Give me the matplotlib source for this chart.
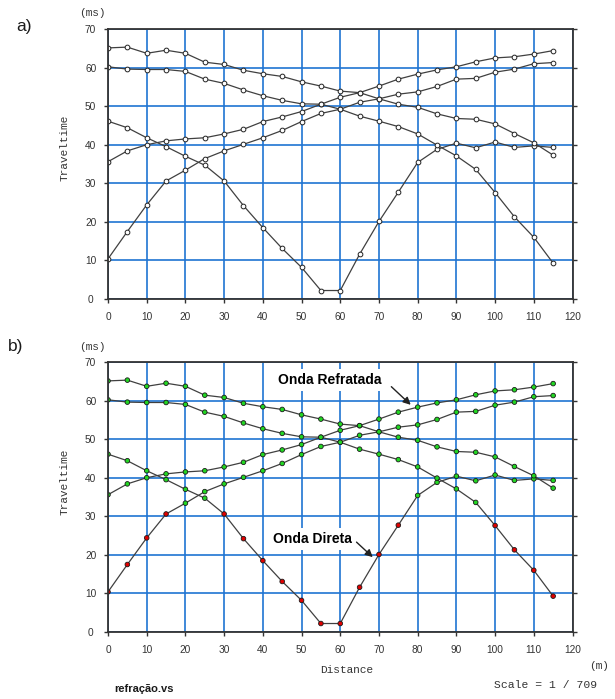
import matplotlib
matplotlib.use("Agg")
import matplotlib.pyplot as plt
import numpy as np

# ---------------- data ----------------
distance = [0, 5, 10, 15, 20, 25, 30, 35, 40, 45, 50, 55,
            60, 65, 70, 75, 80, 85, 90, 95, 100, 105, 110, 115]

shot_left_near = [10.4, 17.5, 24.4, 30.6, 33.4, 36.4, 38.4, 40.1, 41.8, 43.7, 46.0, 48.1,
                  49.2, 51.0, 51.9, 53.1, 53.7, 55.1, 57.0, 57.2, 58.8, 59.6, 61.0, 61.3]
shot_left_far = [35.6, 38.4, 40.0, 41.0, 41.5, 41.8, 42.8, 44.0, 46.0, 47.2, 48.6, 50.5,
                 52.3, 53.5, 55.2, 57.0, 58.3, 59.4, 60.2, 61.5, 62.5, 62.8, 63.5, 64.4]
shot_middle = [46.1, 44.4, 41.8, 39.5, 37.0, 34.7, 30.6, 24.2, 18.5, 13.1, 8.2, 2.2,
               2.2, 11.6, 20.1, 27.7, 35.4, 38.8, 40.4, 39.2, 40.7, 39.3, 39.7, 39.3]
shot_right_near = [60.2, 59.6, 59.5, 59.5, 59.0, 57.0, 55.9, 54.2, 52.7, 51.5, 50.6, 50.5,
                   49.2, 47.4, 46.1, 44.7, 42.8, 39.9, 37.1, 33.6, 27.6, 21.3, 16.0, 9.3]
shot_right_far = [65.1, 65.3, 63.7, 64.5, 63.7, 61.4, 60.8, 59.3, 58.4, 57.7, 56.3, 55.2,
                  53.9, 53.5, 51.9, 50.5, 49.7, 48.0, 46.8, 46.6, 45.4, 42.9, 40.5, 37.3]

# direct-wave picks (red in panel b), as distance ranges per shot
direct_left_near = (0, 15)
direct_left_far = None
direct_middle = (30, 75)
direct_right_near = (100, 115)
direct_right_far = None

shots = [
    (shot_left_near, direct_left_near),
    (shot_left_far, direct_left_far),
    (shot_middle, direct_middle),
    (shot_right_near, direct_right_near),
    (shot_right_far, direct_right_far),
]

x_ticks = [0, 10, 20, 30, 40, 50, 60, 70, 80, 90, 100, 110, 120]
y_ticks = [0, 10, 20, 30, 40, 50, 60, 70]

# ---------------- layout ----------------
W, H = 615, 699
fig = plt.figure(figsize=(W / 100, H / 100), dpi=100)


def px(x, y):
    return x / W, 1 - y / H


MONO = ["Liberation Mono", "DejaVu Sans Mono"]
SANS = ["Liberation Sans", "DejaVu Sans"]

GRID = "#1f74d2"
LINE = "#404040"


def make_axes(top_px):
    left, right, bottom = 108, 572.5, top_px + 270
    ax = fig.add_axes([left / W, 1 - bottom / H, (right - left) / W, 270 / H])
    ax.set_xlim(0, 120)
    ax.set_ylim(0, 70)
    ax.set_xticks(x_ticks)
    ax.set_yticks(y_ticks)
    ax.grid(True, color=GRID, lw=1.2, zorder=0)
    ax.set_axisbelow(True)
    for s in ax.spines.values():
        s.set_color("#333333")
        s.set_linewidth(1.3)
        s.set_zorder(5)
    ax.tick_params(axis="both", direction="out", length=3, width=1.0,
                   color="#333333", labelsize=7.3, labelcolor="#333333")
    ax.tick_params(axis="x", pad=6.5)
    ax.tick_params(axis="y", pad=9.5, right=True)
    for lab in ax.get_yticklabels():
        lab.set_horizontalalignment("center")
        lab.set_fontfamily(SANS)
    for lab in ax.get_xticklabels():
        lab.set_fontfamily(SANS)
    return ax


# ---------------- panel a ----------------
ax1 = make_axes(29)
for vals, _ in shots:
    ax1.plot(distance, vals, color=LINE, lw=0.9, marker="o", ms=3.4,
             mfc="white", mec="#222222", mew=0.7, zorder=3)

# ---------------- panel b ----------------
ax2 = make_axes(362)
for vals, drange in shots:
    ax2.plot(distance, vals, color=LINE, lw=0.9, zorder=3)
    cols = []
    for d in distance:
        if drange is not None and drange[0] <= d <= drange[1]:
            cols.append("#e00000")
        else:
            cols.append("#22d622")
    ax2.scatter(distance, vals, s=11, c=cols, edgecolors="#1a1a1a",
                linewidths=0.6, zorder=4)

ax2.text(57.3, 65.3, "Onda Refratada", fontsize=10, fontweight="bold",
         family=SANS, ha="center", va="center", zorder=2,
         bbox=dict(facecolor="white", edgecolor="none", pad=3))
ax2.annotate("", xy=(78.2, 58.9), xytext=(73.2, 63.6), zorder=4,
             arrowprops=dict(arrowstyle="-|>", color="#222222", lw=1.0,
                             mutation_scale=11, shrinkA=0, shrinkB=0))
ax2.text(52.8, 24.1, "Onda Direta", fontsize=10, fontweight="bold",
         family=SANS, ha="center", va="center", zorder=2,
         bbox=dict(facecolor="white", edgecolor="none", pad=3))
ax2.annotate("", xy=(68.4, 19.4), xytext=(64.2, 23.3), zorder=4,
             arrowprops=dict(arrowstyle="-|>", color="#222222", lw=1.0,
                             mutation_scale=11, shrinkA=0, shrinkB=0))

# ---------------- texts ----------------
fig.text(*px(24, 27), "a)", fontsize=12.5, family=SANS, ha="center",
         va="center", color="#1a1a1a")
fig.text(*px(16, 347), "b)", fontsize=12.5, family=SANS, ha="center",
         va="center", color="#1a1a1a")
for ytop in (13, 347):
    fig.text(*px(92, ytop), "(ms)", fontsize=8, family=MONO, ha="center",
             va="center", color="#333333")
for yc in (148, 482):
    fig.text(*px(65, yc), "Traveltime", fontsize=8, family=MONO,
             ha="center", va="center", rotation=90, color="#333333")
fig.text(*px(347, 670), "Distance", fontsize=8, family=MONO, ha="center",
         va="center", color="#333333")
fig.text(*px(599, 666), "(m)", fontsize=8, family=MONO, ha="center",
         va="center", color="#333333")
fig.text(*px(546, 685), "Scale = 1 / 709", fontsize=8.2, family=MONO,
         ha="center", va="center", color="#333333")
fig.text(*px(144, 689), "refração.vs", fontsize=8, family=SANS,
         fontweight="bold", ha="center", va="center", color="#1a1a1a")

fig.savefig("out.png", dpi=100)
